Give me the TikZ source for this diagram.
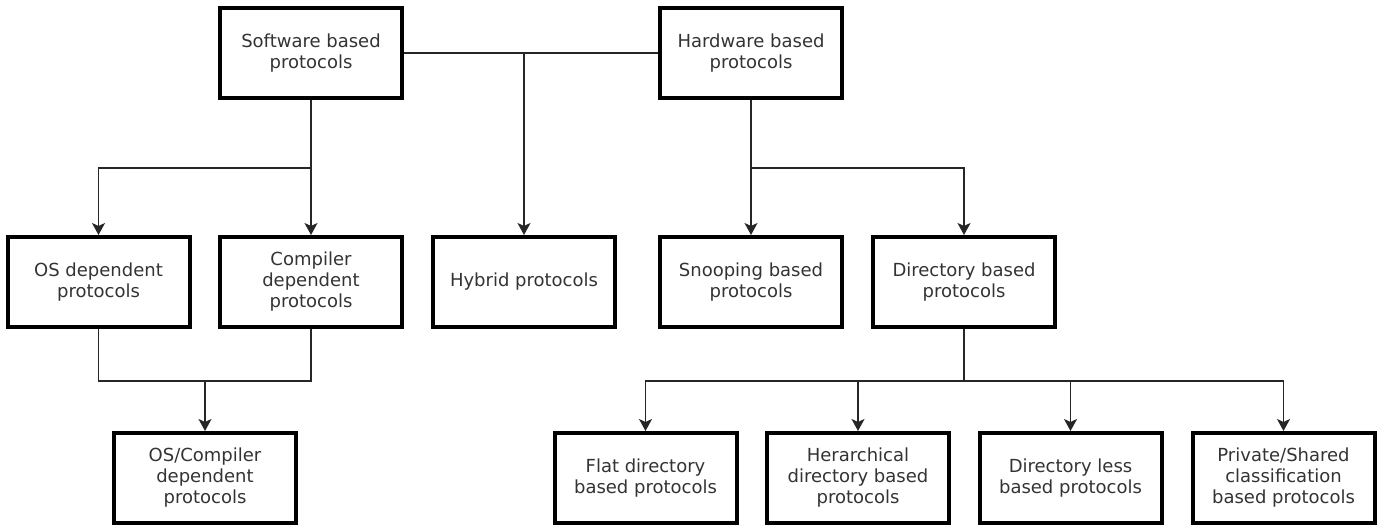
\documentclass[tikz,border=0pt]{standalone}
\usepackage{fontspec}
\setmainfont{DejaVu Sans}
\usetikzlibrary{arrows.meta}
\begin{document}
\begin{tikzpicture}[x=1pt,y=-1pt,
  box/.style={draw=black,line width=4pt,minimum width=182pt,minimum height=90pt,
    align=center,inner sep=2pt,text=black!80,font=\fontsize{18}{21}\selectfont},
  conn/.style={draw=black!85,line width=1.6pt},
  arr/.style={conn,-{Stealth[length=12pt,width=13pt,inset=3pt]}}]
\useasboundingbox (0,0) rectangle (1383,529);
\node[box] (sw) at (311,53) {Software based\\protocols};
\node[box] (hw) at (751,53) {Hardware based\\protocols};
\node[box] (os) at (98.5,282) {OS dependent\\protocols};
\node[box] (cp) at (311,282) {Compiler\\dependent\\protocols};
\node[box] (hy) at (524,282) {Hybrid protocols};
\node[box] (sn) at (751,282) {Snooping based\\protocols};
\node[box] (di) at (964,282) {Directory based\\protocols};
\node[box] (oc) at (205,478) {OS/Compiler\\dependent\\protocols};
\node[box] (fl) at (645.5,478) {Flat directory\\based protocols};
\node[box] (he) at (858,478) {Herarchical\\directory based\\protocols};
\node[box] (dl) at (1070.5,478) {Directory less\\based protocols};
\node[box] (ps) at (1283.5,478) {Private/Shared\\classification\\based protocols};
\coordinate (j1) at (524,53);
\coordinate (js) at (311,168);
\coordinate (jh) at (751,168);
\coordinate (jo) at (205,381);
\coordinate (jd) at (964,381);
\draw[conn] (sw.east) -- (hw.west);
\draw[arr] (j1) -- (hy.north);
\draw[conn] (sw.south) -- (js);
\draw[arr] (js) -| (os.north);
\draw[arr] (js) -- (cp.north);
\draw[conn] (hw.south) -- (jh);
\draw[arr] (jh) -- (sn.north);
\draw[arr] (jh) -| (di.north);
\draw[conn] (os.south) |- (jo);
\draw[conn] (cp.south) |- (jo);
\draw[arr] (jo) -- (oc.north);
\draw[conn] (di.south) -- (jd);
\draw[arr] (jd) -| (fl.north);
\draw[arr] (jd) -| (he.north);
\draw[arr] (jd) -| (dl.north);
\draw[arr] (jd) -| (ps.north);
\end{tikzpicture}
\end{document}
